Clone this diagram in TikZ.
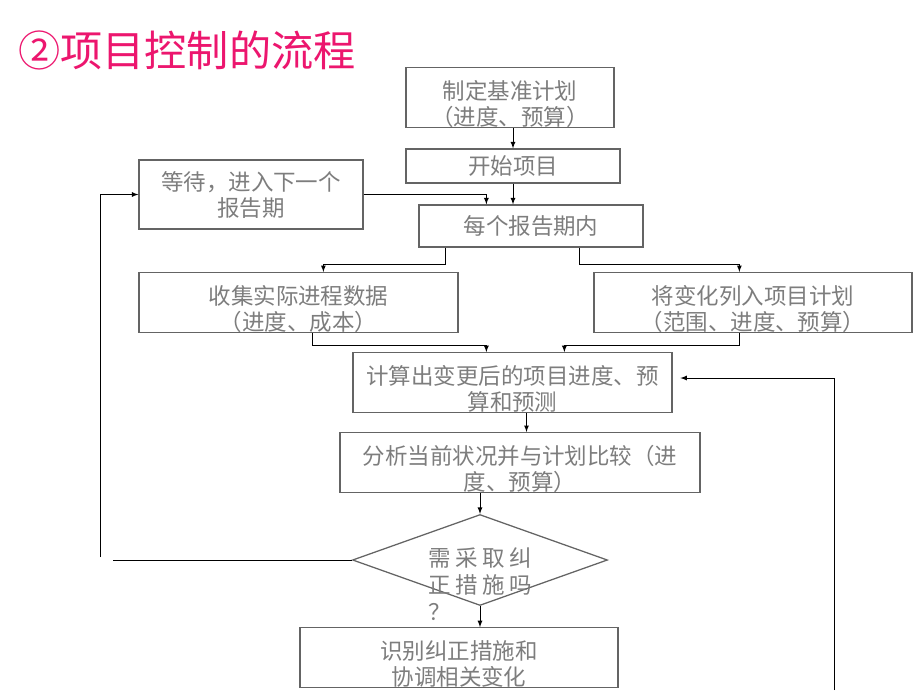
\documentclass[tikz,border=0pt]{standalone}
\usepackage{fontspec}
\newfontfamily\cjk{Noto Sans CJK SC}
\usepackage{xcolor}
\usepackage{tikz}
\usetikzlibrary{arrows}
\usetikzlibrary{calc}
\usetikzlibrary{positioning}
\usetikzlibrary{shapes.geometric}

\definecolor{titlepink}{RGB}{236,22,110}
\definecolor{boxline}{RGB}{100,100,100}
\definecolor{boxtext}{RGB}{125,125,125}
\newcommand{\ckgap}{\hspace{3.3pt}}
\newcommand{\uplift}{\rule{0pt}{22.5pt}}

\begin{document}
\begin{tikzpicture}[
    box/.style={draw=boxline, line width=0.9pt, text=boxtext, align=center,
      inner sep=0pt, font=\cjk\fontsize{16}{18.5}\selectfont,
      minimum height=1.425cm},
    flow/.style={->, >=latex, black, line width=0.6pt},
    link/.style={black, line width=0.6pt}]

    \useasboundingbox (0,0) rectangle (23,-17.25);

    % title
    \node [anchor=west, inner sep=0pt, text=titlepink,
      font=\cjk\fontsize{30}{34}\selectfont] (title) at (0.45,-1.25) {②项目控制的流程};

    % boxes
    \node [box, minimum width=5.2cm] (base) at (12.75,-2.4375)
      {\uplift 制定基准计划\\（进度、预算）};
    \node [box, minimum width=5.35cm, minimum height=0.85cm] (start) at (12.825,-4.15)
      {开始项目};
    \node [box, minimum width=5.6cm, minimum height=1.725cm] (wait) at (6.275,-4.8625)
      {等待，进入下一个\\报告期};
    \node [box, minimum width=5.6cm, minimum height=1.05cm] (period) at (13.275,-5.65)
      {每个报告期内};
    \node [box, minimum width=7.975cm] (collect) at (7.4625,-7.5625)
      {\uplift 收集实际进程数据\\（进度、成本）};
    \node [box, minimum width=7.95cm] (change) at (18.825,-7.5625)
      {\uplift 将变化列入项目计划\\（范围、进度、预算）};
    \node [box, minimum width=7.975cm] (calc) at (12.8125,-9.5625)
      {\uplift 计算出变更后的项目进度、预\\算和预测};
    \node [box, minimum width=9cm] (analyse) at (13,-11.5625)
      {\uplift 分析当前状况并与计划比较（进\\度、预算）};
    \node [draw=boxline, line width=0.9pt, diamond, aspect=2.8, inner sep=0pt,
      minimum width=6.375cm, minimum height=2.275cm] (check) at (12,-14) {};
    \node [anchor=west, align=left, inner sep=0pt, text=boxtext,
      font=\cjk\fontsize{16}{19}\selectfont] (checktext) at (10.7,-14.6)
      {需\ckgap 采\ckgap 取\ckgap 纠\\正\ckgap 措\ckgap 施\ckgap 吗\\？};
    \node [box, minimum width=7.95cm] (identify) at (11.475,-16.4375)
      {\uplift 识别纠正措施和\\协调相关变化};

    % connectors
    \draw [flow] (start.north |- base.south) -- (start.north);
    \draw [flow] (start.south) -- (start.south |- period.north);
    \draw [flow] (wait.east) -| ($(period.north west)+(1.7,0)$);
    \draw [flow] ($(period.south west)+(0.675,0)$) -- ++(0,-0.425)
      -| ($(collect.north west)+(4.625,0)$);
    \draw [flow] ($(period.south west)+(4.025,0)$) -- ++(0,-0.425)
      -| ($(change.north west)+(3.65,0)$);
    \draw [flow] ($(collect.south west)+(4.35,0)$) -- ++(0,-0.3)
      -| ($(calc.north west)+(3.35,0)$);
    \draw [flow] ($(change.south west)+(3.65,0)$) -- ++(0,-0.3)
      -| ($(calc.north west)+(5.3,0)$);
    \draw [flow] ([xshift=0.35cm]calc.south) -- ([xshift=0.35cm]calc.south |- analyse.north);
    \draw [flow] (check.north |- analyse.south) -- (check.north);
    \draw [flow] (check.south) -- (check.south |- identify.north);

    % loop back to the next period
    \coordinate (loopend) at (2.825,-14);
    \coordinate (loopstart) at (2.5,-13.925);
    \draw [link] (check.west) -- (loopend);
    \draw [flow] (loopstart) |- (wait.west);

    % feedback from below
    \coordinate (fbstart) at (20.85,-17.25);
    \draw [flow, shorten >=5.5pt] (fbstart) |- ([yshift=0.1125cm]calc.east);

  \end{tikzpicture}
\end{document}
